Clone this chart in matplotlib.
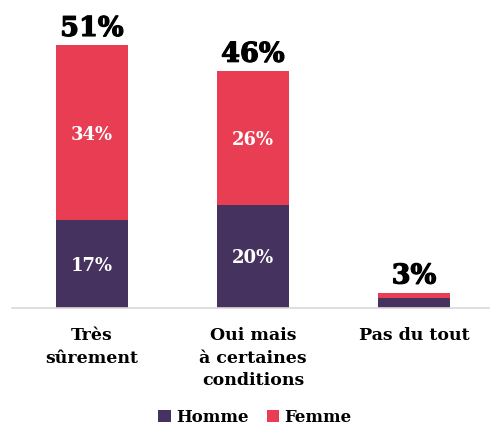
import matplotlib.pyplot as plt
import matplotlib.patheffects as pe
import numpy as np

categories = ['Très\nsûrement', 'Oui mais\nà certaines\nconditions', 'Pas du tout']
homme = [17, 20, 2]
femme = [34, 26, 1]
totals = ['51%', '46%', '3%']
homme_labels = ['17%', '20%', '']
femme_labels = ['34%', '26%', '']

c_homme = '#46325e'
c_femme = '#e83d52'

plt.rcParams['font.family'] = ['DejaVu Serif']
plt.rcParams['font.weight'] = 'bold'

fig = plt.figure(figsize=(4.9, 4.28), dpi=100)
ax = fig.add_axes([11.5 / 490, 120 / 428, 483 / 490, 283.6 / 428])

x = np.arange(len(categories))
b1 = ax.bar(x, homme, width=0.45, color=c_homme, label='Homme')
b2 = ax.bar(x, femme, width=0.45, bottom=homme, color=c_femme, label='Femme')

for i in range(len(x)):
    if homme_labels[i]:
        ax.text(x[i], homme[i] / 2 - 0.4, homme_labels[i], ha='center', va='center',
                color='white', fontsize=13, fontweight='bold')
    if femme_labels[i]:
        ax.text(x[i], homme[i] + femme[i] / 2 - 0.4, femme_labels[i], ha='center', va='center',
                color='white', fontsize=13, fontweight='bold')
    ax.text(x[i], homme[i] + femme[i] + 0.6, totals[i], ha='center', va='bottom',
            color='black', fontsize=19.5, fontweight='bold',
            path_effects=[pe.withStroke(linewidth=0.9, foreground='black')])

ax.set_xlim(-0.5, 2.5)
ax.set_ylim(0, 55)
ax.set_xticks(x)
ax.set_xticklabels(categories, fontsize=12.5, fontweight='bold', linespacing=1.4)
ax.tick_params(axis='x', length=0, pad=14)
ax.set_yticks([])
for s in ['top', 'right', 'left']:
    ax.spines[s].set_visible(False)
ax.spines['bottom'].set_color('#d9d9d9')
ax.spines['bottom'].set_linewidth(1.2)

fig.legend(handles=[b1, b2], loc='lower center', bbox_to_anchor=(0.52, -0.03), ncol=2,
           frameon=False, handlelength=0.75, handleheight=0.75,
           handletextpad=0.3, columnspacing=1.1, prop={'weight': 'bold', 'size': 12})

fig.savefig('out.png', dpi=100)
